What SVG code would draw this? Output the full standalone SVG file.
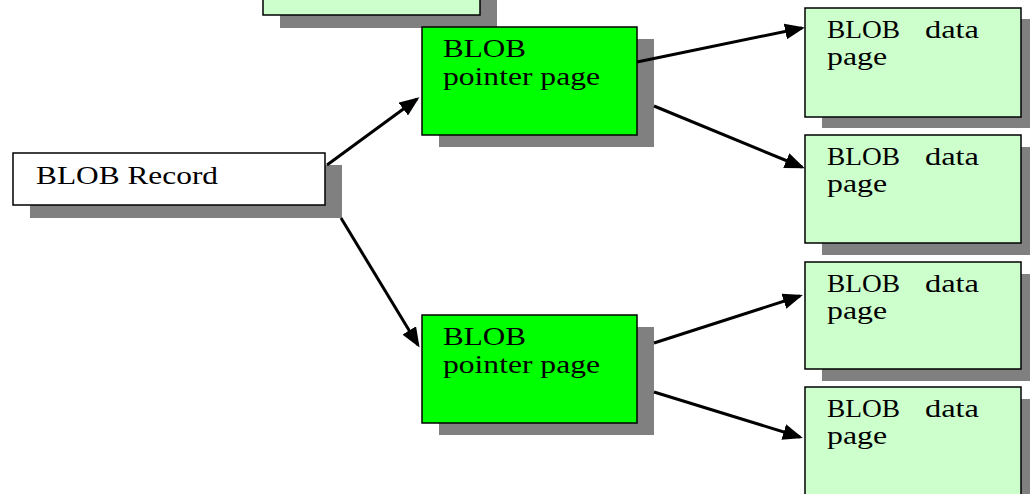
<svg xmlns="http://www.w3.org/2000/svg" width="1030" height="494" viewBox="0 0 1030 494">
  <style>
    .shadow { fill: #808080; }
    .box { stroke: #000; stroke-width: 1.5; }
    .record { fill: #ffffff; }
    .pointer { fill: #00ff00; }
    .data { fill: #ccffcc; }
    .label { font-family: "Liberation Serif", "Times New Roman", serif; font-size: 26px; fill: #000; }
    .link { stroke: #000; stroke-width: 3; fill: none; marker-end: url(#arrow); }
  </style>
  <defs>
    <marker id="arrow" markerUnits="userSpaceOnUse" markerWidth="20" markerHeight="16" refX="17" refY="8" orient="auto">
      <path d="M0,0 L20,8 L0,16 z" fill="#000"/>
    </marker>
  </defs>
  <rect width="1030" height="494" fill="#fff"/>

  <!-- data page cut off at the top edge -->
  <g id="data-page-top">
    <rect class="shadow" x="280" y="-80" width="217" height="108"/>
    <rect class="box data" x="263" y="-93" width="217" height="108"/>
  </g>

  <g id="blob-record">
    <rect class="shadow" x="30" y="165" width="312" height="53"/>
    <rect class="box record" x="13" y="153" width="312" height="52"/>
    <text class="label" x="36" y="184" textLength="182" lengthAdjust="spacingAndGlyphs">BLOB Record</text>
  </g>

  <g id="pointer-page-1">
    <rect class="shadow" x="439" y="39" width="215" height="108"/>
    <rect class="box pointer" x="422" y="27" width="215" height="108"/>
    <text class="label" x="443" y="57" textLength="83" lengthAdjust="spacingAndGlyphs">BLOB</text>
    <text class="label" x="443" y="85" textLength="157" lengthAdjust="spacingAndGlyphs">pointer page</text>
  </g>

  <g id="pointer-page-2">
    <rect class="shadow" x="439" y="327" width="215" height="108"/>
    <rect class="box pointer" x="422" y="315" width="215" height="108"/>
    <text class="label" x="443" y="345" textLength="83" lengthAdjust="spacingAndGlyphs">BLOB</text>
    <text class="label" x="443" y="373" textLength="157" lengthAdjust="spacingAndGlyphs">pointer page</text>
  </g>

  <g id="data-page-1">
    <rect class="shadow" x="822" y="19" width="216" height="109"/>
    <rect class="box data" x="805" y="8" width="216" height="109"/>
    <text class="label" y="38"><tspan x="827" textLength="80" lengthAdjust="spacingAndGlyphs">BLOB </tspan><tspan x="925" textLength="54" lengthAdjust="spacingAndGlyphs">data</tspan></text>
    <text class="label" x="827" y="65" textLength="60" lengthAdjust="spacingAndGlyphs">page</text>
  </g>

  <g id="data-page-2">
    <rect class="shadow" x="822" y="147" width="216" height="108"/>
    <rect class="box data" x="805" y="135" width="216" height="108"/>
    <text class="label" y="165"><tspan x="827" textLength="80" lengthAdjust="spacingAndGlyphs">BLOB </tspan><tspan x="925" textLength="54" lengthAdjust="spacingAndGlyphs">data</tspan></text>
    <text class="label" x="827" y="192" textLength="60" lengthAdjust="spacingAndGlyphs">page</text>
  </g>

  <g id="data-page-3">
    <rect class="shadow" x="822" y="274" width="216" height="107"/>
    <rect class="box data" x="805" y="262" width="216" height="107"/>
    <text class="label" y="292"><tspan x="827" textLength="80" lengthAdjust="spacingAndGlyphs">BLOB </tspan><tspan x="925" textLength="54" lengthAdjust="spacingAndGlyphs">data</tspan></text>
    <text class="label" x="827" y="319" textLength="60" lengthAdjust="spacingAndGlyphs">page</text>
  </g>

  <g id="data-page-4">
    <rect class="shadow" x="822" y="399" width="216" height="109"/>
    <rect class="box data" x="805" y="387" width="216" height="109"/>
    <text class="label" y="417"><tspan x="827" textLength="80" lengthAdjust="spacingAndGlyphs">BLOB </tspan><tspan x="925" textLength="54" lengthAdjust="spacingAndGlyphs">data</tspan></text>
    <text class="label" x="827" y="444" textLength="60" lengthAdjust="spacingAndGlyphs">page</text>
  </g>

  <g id="connectors">
    <line class="link" x1="327" y1="165" x2="417" y2="99"/>
    <line class="link" x1="341" y1="218" x2="418" y2="345"/>
    <line class="link" x1="637" y1="62" x2="802" y2="28"/>
    <line class="link" x1="654" y1="106" x2="802" y2="167"/>
    <line class="link" x1="654" y1="343" x2="800" y2="296"/>
    <line class="link" x1="654" y1="392" x2="800" y2="437"/>
  </g>
</svg>
